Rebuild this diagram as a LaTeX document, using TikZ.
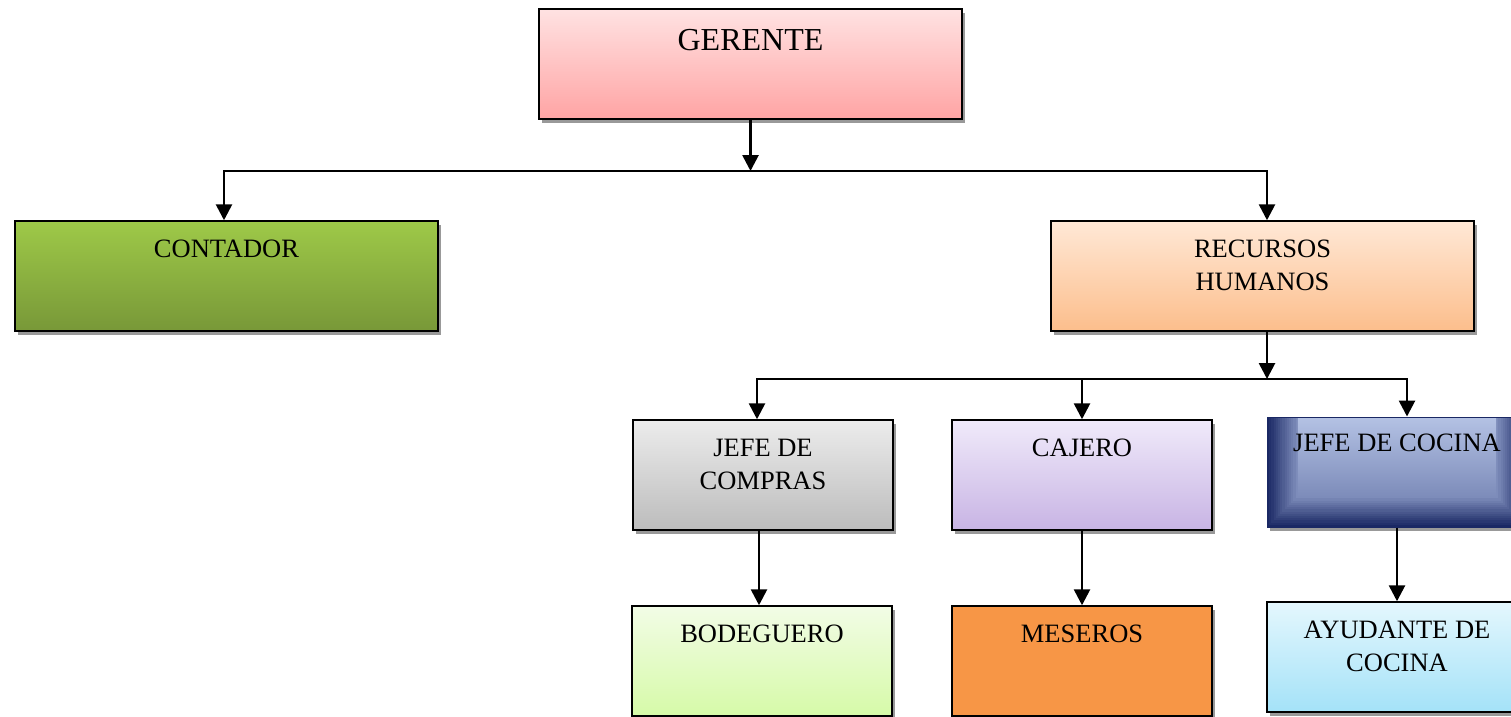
\documentclass[tikz,border=0pt]{standalone}
\usepackage{fontspec}
\setmainfont{Liberation Serif}
\usetikzlibrary{arrows.meta,shadows}

\definecolor{gerTop}{RGB}{255,226,226}
\definecolor{gerBot}{RGB}{255,164,164}
\definecolor{conTop}{RGB}{158,201,72}
\definecolor{conBot}{RGB}{120,152,56}
\definecolor{rhTop}{RGB}{255,232,214}
\definecolor{rhBot}{RGB}{252,190,140}
\definecolor{comTop}{RGB}{236,236,236}
\definecolor{comBot}{RGB}{188,188,188}
\definecolor{cajTop}{RGB}{240,234,250}
\definecolor{cajBot}{RGB}{200,180,228}
\definecolor{cocDark}{RGB}{26,40,100}
\definecolor{cocMid}{RGB}{125,140,186}
\definecolor{cocTop}{RGB}{180,194,228}
\definecolor{bodTop}{RGB}{242,252,230}
\definecolor{bodBot}{RGB}{214,250,168}
\definecolor{mesFill}{RGB}{247,150,70}
\definecolor{ayuTop}{RGB}{228,247,253}
\definecolor{ayuBot}{RGB}{164,226,248}

\tikzset{
  box/.style={draw=black, line width=1.5pt, rectangle,
    minimum width=260pt, minimum height=110pt,
    drop shadow={shadow xshift=3pt, shadow yshift=-3.5pt, fill=black!40, opacity=1}},
  wide/.style={box, minimum width=423pt},
  title/.style={label={[anchor=north, inner sep=0pt, yshift=-19.5pt, align=center,
    font=\fontsize{26.5}{33}\selectfont]north:#1}},
  arr/.style={line width=2.7pt, -{Triangle[length=16pt,width=16pt]}},
  hline/.style={line width=2pt, line cap=rect},
}

\begin{document}
\begin{tikzpicture}[x=1pt,y=-1pt]
\useasboundingbox (0,0) rectangle (1511,716);
\fill[white] (0,0) rectangle (1511,716);
\clip (0,0) rectangle (1511,716);

% first level
\node[wide, top color=gerTop, bottom color=gerBot,
  label={[anchor=north, inner sep=0pt, yshift=-21pt, font=\fontsize{32}{38}\selectfont]north:GERENTE}]
  (ger) at (750.5,64) {};
\node[wide, top color=conTop, bottom color=conBot, title=CONTADOR] (cont) at (226.5,276) {};
\node[wide, top color=rhTop, bottom color=rhBot, title={RECURSOS\\HUMANOS}] (rh) at (1262.5,276) {};

% second level
\node[box, top color=comTop, bottom color=comBot, title={JEFE DE\\COMPRAS}] (jcomp) at (763,475) {};
\node[box, top color=cajTop, bottom color=cajBot, title=CAJERO] (caj) at (1082,475) {};
\node[box, draw=cocDark, line width=1pt, fill=cocDark,
  path picture={
    \foreach \i in {0,...,13}{
      \pgfmathsetmacro\m{\i*100/13}
      \fill[cocMid!\m!cocDark] ([xshift=\i*2.2pt]path picture bounding box.north west)
        rectangle ([xshift=-\i*2.2pt,yshift=\i*2.2pt]path picture bounding box.south east);
    }
    \shade[top color=cocTop, bottom color=cocMid]
      ([xshift=30.8pt]path picture bounding box.north west)
      rectangle ([xshift=-30.8pt,yshift=30.8pt]path picture bounding box.south east);
  },
  label={[anchor=north, inner sep=0pt, yshift=-17.5pt, font=\fontsize{26.5}{33}\selectfont]north:JEFE DE COCINA}]
  (jcoc) at (1397,472) {};

% third level
\node[box, top color=bodTop, bottom color=bodBot, title=BODEGUERO] (bod) at (762,661) {};
\node[box, fill=mesFill, title=MESEROS] (mes) at (1082,661) {};
\node[box, top color=ayuTop, bottom color=ayuBot, title={AYUDANTE DE\\COCINA}] (ayu) at (1397,657) {};

% connectors
\coordinate (t0) at (750.5,171);
\coordinate (tl) at (224,171);
\coordinate (tr) at (1267,171);
\draw[hline] (tl) -- (tr);
\draw[arr] (ger) -- (t0);
\draw[arr] (tl) -- (tl |- cont.north);
\draw[arr] (tr) -- (tr |- rh.north);

\coordinate (m0) at (1267,379);
\coordinate (ml) at (757,379);
\coordinate (mc) at (1082,379);
\coordinate (mr) at (1407,379);
\draw[hline] (ml) -- (mr);
\draw[arr] (m0 |- rh.south) -- (m0);
\draw[arr] (ml) -- (ml |- jcomp.north);
\draw[arr] (mr) -- (mr |- jcoc.north);
\draw[arr] (mc) -- (caj.north);

\draw[arr] ([xshift=-4pt]jcomp.south) -- ([xshift=-3pt]bod.north);
\draw[arr] (caj) -- (mes);
\draw[arr] (jcoc) -- (ayu);
\end{tikzpicture}
\end{document}
